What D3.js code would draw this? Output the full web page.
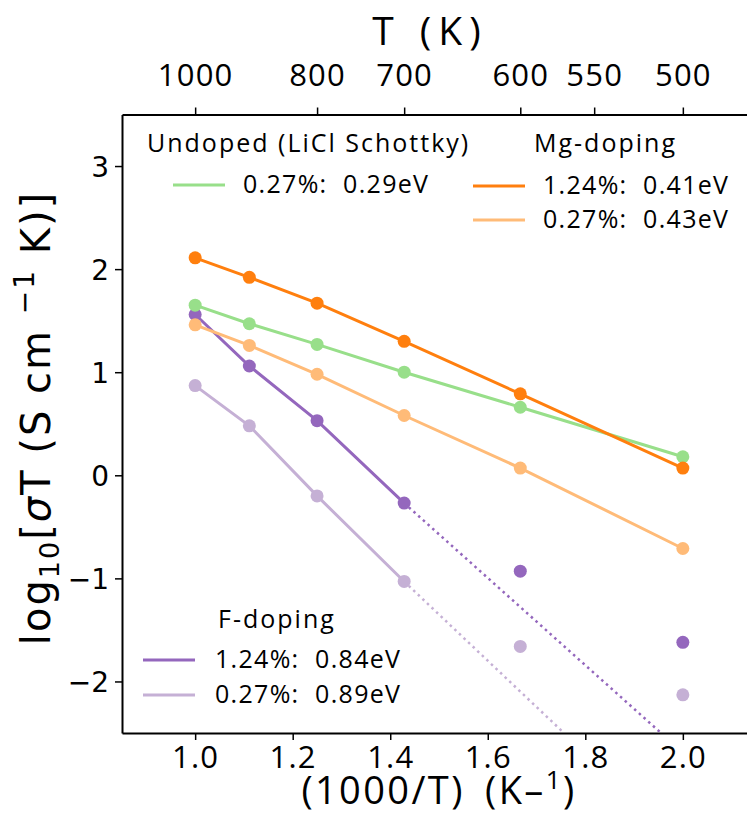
<!DOCTYPE html>
<html>
<head>
<meta charset="utf-8">
<script src="https://cdn.jsdelivr.net/npm/d3@7/dist/d3.min.js"></script>
<style>
  html, body { margin: 0; padding: 0; background: #fff; }
  svg { display: block; }
  .tick text { fill: #000; }
</style>
</head>
<body>
<div id="chart"></div>
<script>
// Measurement temperatures (K) and the derived reciprocal axis 1000/T
const temperatures = [1000, 900, 800, 700, 600, 500];
const topTickTemps = [1000, 800, 700, 600, 550, 500];
const bottomTicks = [1.0, 1.2, 1.4, 1.6, 1.8, 2.0];
const yTicks = [-2, -1, 0, 1, 2, 3];

// log10(sigma*T) for each composition
const undoped027 = [1.65, 1.47, 1.27, 1.00, 0.66, 0.18];
const mg124 = [2.11, 1.92, 1.67, 1.30, 0.79, 0.07];
const mg027 = [1.46, 1.26, 0.98, 0.58, 0.07, -0.71];
const f124 = [1.56, 1.06, 0.53, -0.27, -0.93, -1.62];
const f027 = [0.87, 0.48, -0.20, -1.03, -1.66, -2.13];

// Activation energies (eV) quoted in the legend
const seriesNames = ["F 0.27%", "F 1.24%", "Undoped 0.27%", "Mg 0.27%", "Mg 1.24%"];
const seriesValues = [f027, f124, undoped027, mg027, mg124];
const seriesColors = ["#c5b0d5", "#9467bd", "#98df8a", "#ffbb78", "#ff7f0e"];
const seriesEa = [0.89, 0.84, 0.29, 0.43, 0.41];
const seriesFitEnd = [3, 3, 5, 5, 5];          // last point joined by the solid line
const seriesExtrapolate = [true, true, false, false, false];

const W = 747, H = 814;
const xDomain = [0.85, 2.15], yDomain = [-2.5, 3.5];
const plot = { left: 122, right: 756, top: 114.5, bottom: 733 };

const svg = d3.select("#chart").append("svg").attr("width", W).attr("height", H);

const x = d3.scaleLinear().domain(xDomain).range([plot.left, plot.right]);
const y = d3.scaleLinear().domain(yDomain).range([plot.bottom, plot.top]);

const invT = temperatures.map(t => 1000 / t);
const kB = 8.617e-5;

const tickFont = "'Open Sans', sans-serif";

// Axes
const gBottom = svg.append("g").attr("transform", `translate(0,${plot.bottom})`)
  .call(d3.axisBottom(x).tickValues(bottomTicks).tickFormat(d3.format(".1f")).tickSize(7).tickSizeOuter(0).tickPadding(6));
const gTop = svg.append("g").attr("transform", `translate(0,${plot.top})`)
  .call(d3.axisTop(x).tickValues(topTickTemps.map(t => 1000 / t)).tickFormat(d => String(Math.round(1000 / d))).tickSize(7).tickSizeOuter(0).tickPadding(22));
const gLeft = svg.append("g").attr("transform", `translate(${plot.left},0)`)
  .call(d3.axisLeft(y).tickValues(yTicks).tickFormat(d => d < 0 ? "\u2212" + Math.abs(d) : String(d)).tickSize(7).tickSizeOuter(0).tickPadding(6));

[gBottom, gTop].forEach(g => g.selectAll(".tick text")
  .attr("font-family", tickFont).attr("font-size", 31).attr("letter-spacing", 1.2));
gLeft.selectAll(".tick text").attr("font-family", "'DejaVu Sans', sans-serif").attr("font-size", 28).attr("dy", "0.36em");
[gBottom, gTop, gLeft].forEach(g => {
  g.select(".domain").attr("stroke", "#000").attr("stroke-width", 2);
  g.selectAll(".tick line").attr("stroke", "#000").attr("stroke-width", 1.5);
});

// Series: solid lines through the fitted points, dotted Arrhenius extrapolation, markers
const lineGen = d3.line().x(d => x(d[0])).y(d => y(d[1]));
seriesValues.forEach((vals, i) => {
  const pts = invT.map((xv, j) => [xv, vals[j]]);
  const solid = pts.slice(0, seriesFitEnd[i] + 1);
  svg.append("path").attr("d", lineGen(solid)).attr("fill", "none")
    .attr("stroke", seriesColors[i]).attr("stroke-width", 3);
  if (seriesExtrapolate[i]) {
    const slope = -seriesEa[i] / (kB * Math.LN10 * 1000);
    const start = solid[solid.length - 1];
    const xEnd = start[0] + (yDomain[0] - start[1]) / slope;
    svg.append("path").attr("d", lineGen([start, [xEnd, yDomain[0]]])).attr("fill", "none")
      .attr("stroke", seriesColors[i]).attr("stroke-width", 2.5)
      .attr("stroke-dasharray", "2.5,3.8");
  }
});
seriesValues.forEach((vals, i) => {
  svg.append("g").selectAll("circle").data(vals).join("circle")
    .attr("cx", (d, j) => x(invT[j])).attr("cy", d => y(d)).attr("r", 6.5)
    .attr("fill", seriesColors[i]);
});

// Axis titles
svg.append("text").attr("x", 430).attr("y", 45).attr("text-anchor", "middle")
  .attr("font-family", tickFont).attr("font-size", 39).attr("letter-spacing", 7)
  .attr("word-spacing", 2).text("T (K)");

const xl = svg.append("text").attr("x", 439).attr("y", 804).attr("text-anchor", "middle")
  .attr("font-family", tickFont).attr("font-size", 38).attr("letter-spacing", 2.4)
  .attr("word-spacing", 8);
xl.append("tspan").text("(1000/T) (K\u2013");
xl.append("tspan").attr("font-size", 26).attr("dy", -15).text("1");
xl.append("tspan").attr("dy", 15).text(")");

const yl = svg.append("text").attr("transform", `translate(50,418) rotate(-90)`)
  .attr("text-anchor", "middle").attr("font-family", "'DejaVu Sans', sans-serif")
  .attr("font-size", 40).attr("letter-spacing", 2);
yl.append("tspan").text("log");
yl.append("tspan").attr("font-size", 27).attr("dy", 9).text("10");
yl.append("tspan").attr("dy", -9).text("[");
yl.append("tspan").attr("font-style", "italic").text("\u03C3");
yl.append("tspan").text("T (S cm ");
yl.append("tspan").attr("font-size", 28).attr("dy", -16).text("\u22121");
yl.append("tspan").attr("dy", 16).text(" K)]");

// Legends
const legFont = 25;
function legendTitle(tx, ty, label) {
  svg.append("text").attr("x", tx).attr("y", ty).attr("font-family", tickFont)
    .attr("font-size", legFont).attr("letter-spacing", 2)
    .attr("dominant-baseline", "central").text(label);
}
function legendEntry(lx, ly, len, color, tx, label) {
  svg.append("line").attr("x1", lx).attr("x2", lx + len).attr("y1", ly).attr("y2", ly)
    .attr("stroke", color).attr("stroke-width", 3);
  svg.append("text").attr("x", tx).attr("y", ly - 2).attr("font-family", tickFont)
    .attr("font-size", legFont).attr("letter-spacing", 1.3)
    .attr("dominant-baseline", "central")
    .attr("xml:space", "preserve").style("white-space", "pre").text(label);
}
legendTitle(147, 142, "Undoped (LiCl Schottky)");
legendEntry(173, 185, 52, seriesColors[2], 243, "0.27%:  " + seriesEa[2].toFixed(2) + "eV");
legendTitle(534, 142, "Mg-doping");
legendEntry(473, 186, 52, seriesColors[4], 543, "1.24%:  " + seriesEa[4].toFixed(2) + "eV");
legendEntry(473, 220, 52, seriesColors[3], 543, "0.27%:  " + seriesEa[3].toFixed(2) + "eV");
legendTitle(218, 618, "F-doping");
legendEntry(143, 660, 52, seriesColors[1], 215, "1.24%:  " + seriesEa[1].toFixed(2) + "eV");
legendEntry(143, 695, 52, seriesColors[0], 215, "0.27%:  " + seriesEa[0].toFixed(2) + "eV");
</script>
</body>
</html>
